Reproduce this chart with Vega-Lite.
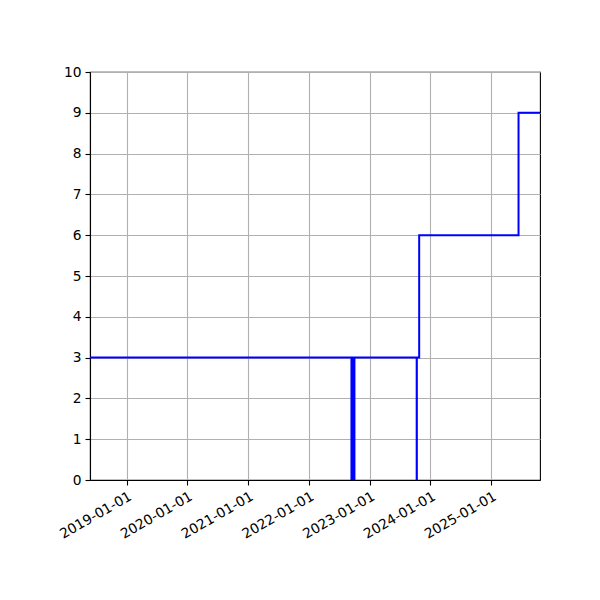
{
  "$schema": "https://vega.github.io/schema/vega-lite/v6.json",
  "width": 450,
  "height": 408,
  "autosize": "none",
  "padding": {"left": 90, "top": 72, "right": 60, "bottom": 120},
  "background": "white",
  "config": {
    "view": {"stroke": "black", "strokeWidth": 1.1},
    "font": "DejaVu Sans",
    "axis": {
      "labelFont": "DejaVu Sans",
      "labelFontSize": 13.8,
      "labelColor": "black",
      "domainColor": "black",
      "domainWidth": 1.1,
      "tickColor": "black",
      "tickWidth": 1.1,
      "tickSize": 5,
      "labelPadding": 4,
      "gridColor": "#b0b0b0",
      "gridWidth": 1.1,
      "title": null
    }
  },
  "datasets": {
    "steps": [
      {"date": "2018-05-26", "value": 3},
      {"date": "2022-09-21", "value": 0},
      {"date": "2022-09-23", "value": 3},
      {"date": "2023-10-10", "value": 0},
      {"date": "2023-10-11", "value": 3},
      {"date": "2023-10-25", "value": 6},
      {"date": "2025-06-13", "value": 9},
      {"date": "2025-10-20", "value": 9}
    ],
    "dips": [
      {"date": "2022-09-22", "low": 0, "high": 3}
    ]
  },
  "layer": [
    {
      "data": {"name": "steps"},
      "mark": {"type": "line", "interpolate": "step-after", "color": "blue", "strokeWidth": 2, "clip": true},
      "encoding": {
        "x": {
          "field": "date",
          "type": "temporal",
          "scale": {
            "type": "utc",
            "domain": [
              {"year": 2018, "month": 5, "date": 26, "utc": true},
              {"year": 2025, "month": 10, "date": 20, "utc": true}
            ]
          },
          "axis": {
            "values": [
              {"year": 2019, "month": 1, "date": 1, "utc": true},
              {"year": 2020, "month": 1, "date": 1, "utc": true},
              {"year": 2021, "month": 1, "date": 1, "utc": true},
              {"year": 2022, "month": 1, "date": 1, "utc": true},
              {"year": 2023, "month": 1, "date": 1, "utc": true},
              {"year": 2024, "month": 1, "date": 1, "utc": true},
              {"year": 2025, "month": 1, "date": 1, "utc": true}
            ],
            "labelExpr": "utcFormat(datum.value, '%Y-%m-%d')",
            "labelAngle": -30,
            "labelAlign": "right",
            "labelBaseline": "top",
            "labelDx": -8,
            "labelOverlap": false,
            "grid": true
          }
        },
        "y": {
          "field": "value",
          "type": "quantitative",
          "scale": {"domain": [0, 10], "nice": false, "zero": true},
          "axis": {"values": [0, 1, 2, 3, 4, 5, 6, 7, 8, 9, 10], "grid": true}
        }
      }
    },
    {
      "data": {"name": "dips"},
      "mark": {"type": "rule", "color": "blue", "strokeWidth": 5},
      "encoding": {
        "x": {"field": "date", "type": "temporal"},
        "y": {"field": "low", "type": "quantitative"},
        "y2": {"field": "high"}
      }
    }
  ]
}
